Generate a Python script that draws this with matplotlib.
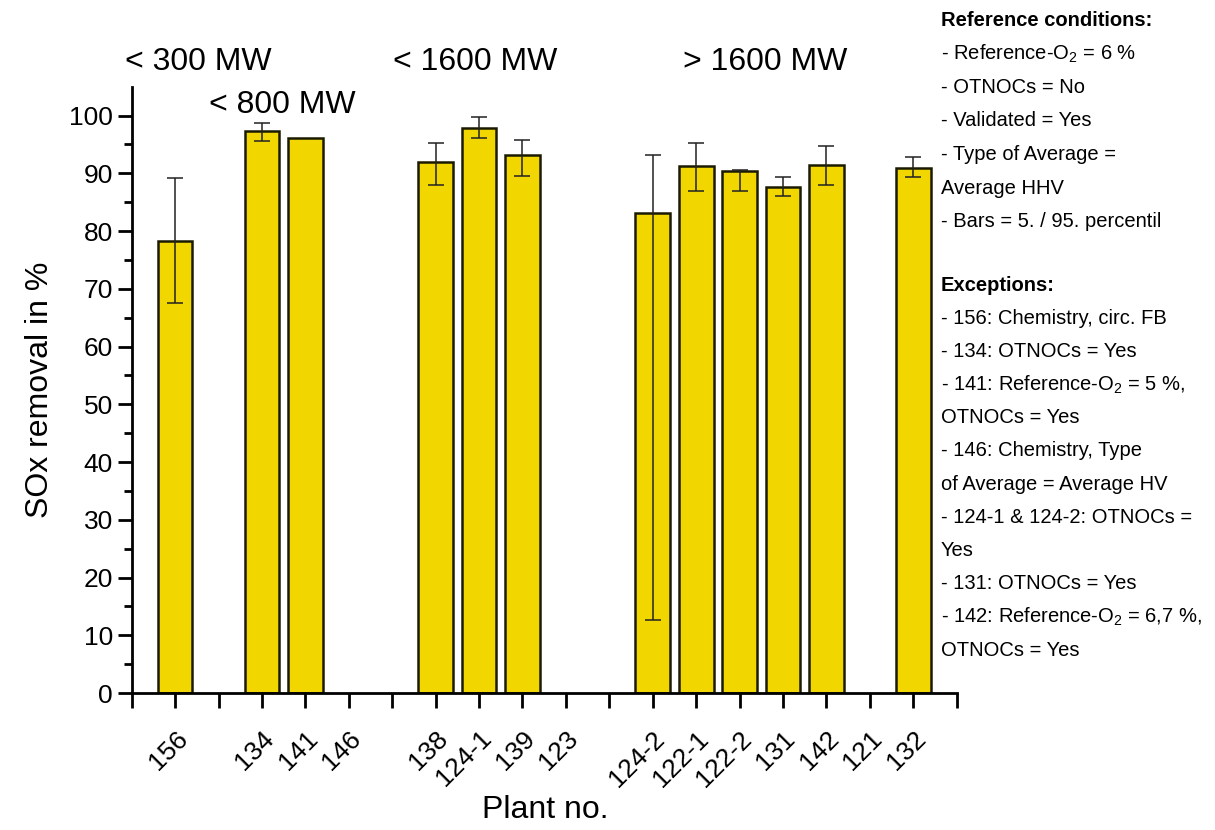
import numpy as np
import matplotlib
matplotlib.use("Agg")
import matplotlib.pyplot as plt

plt.rcParams['font.family'] = ['Liberation Sans', 'DejaVu Sans']
plt.rcParams['mathtext.default'] = 'regular'

# plant labels on x positions 1..18 (blank slots stay empty)
plants = ["156", "", "134", "141", "146", "", "138", "124-1", "139", "123",
          "", "124-2", "122-1", "122-2", "131", "142", "121", "132"]
# mean SOx removal in %, None = no bar
removal = [78.2, None, 97.4, 96.1, None, None, 91.9, 97.8, 93.2, None,
           None, 83.1, 91.2, 90.4, 87.7, 91.5, None, 90.9]
# 95. percentile (upper) and 5. percentile (lower), None = no bar
p95 = [89.2, None, 98.7, None, None, None, 95.3, 99.8, 95.7, None,
       None, 93.2, 95.3, 90.5, 89.3, 94.7, None, 92.9]
p5 = [67.6, None, 95.6, None, None, None, 88.0, 96.2, 89.6, None,
      None, 12.6, 86.9, 86.9, 86.0, 87.9, None, 89.4]

groups = ["< 300 MW", "< 800 MW", "< 1600 MW", "> 1600 MW"]

ref_lines = ["- Reference-O$_2$ = 6 %", "- OTNOCs = No", "- Validated = Yes",
             "- Type of Average =", "Average HHV", "- Bars = 5. / 95. percentil"]
exc_lines = ["- 156: Chemistry, circ. FB", "- 134: OTNOCs = Yes",
             "- 141: Reference-O$_2$ = 5 %,", "OTNOCs = Yes",
             "- 146: Chemistry, Type", "of Average = Average HV",
             "- 124-1 & 124-2: OTNOCs =", "Yes", "- 131: OTNOCs = Yes",
             "- 142: Reference-O$_2$ = 6,7 %,", "OTNOCs = Yes"]

fig = plt.figure(figsize=(12.15, 8.3), dpi=100)
ax = fig.add_axes([0.1084, 0.165, 0.679, 0.7305])

x = np.arange(1, len(plants) + 1)
for xi, v, hi, lo in zip(x, removal, p95, p5):
    if v is None:
        continue
    ax.bar(xi, v, width=0.8, color="#f2d600", edgecolor="#1a1a00", linewidth=1.8, zorder=2)
    if hi is not None:
        ax.errorbar(xi, v, yerr=[[v - lo], [hi - v]], fmt="none", ecolor="#222222",
                    elinewidth=1.1, capsize=6, capthick=1.1, zorder=3)

ax.set_xlim(0, 19)
ax.set_ylim(0, 105)
ax.set_xticks(np.arange(0, 20))
ax.set_xticklabels([""] + plants + [""], rotation=45, ha="right",
                   rotation_mode="anchor", fontsize=19)
ax.set_yticks(np.arange(0, 101, 10))
ax.set_yticks(np.arange(5, 105, 10), minor=True)
ax.tick_params(axis="y", which="major", length=10, width=2, labelsize=19)
ax.tick_params(axis="y", which="minor", length=6, width=2)
ax.tick_params(axis="x", which="major", length=11, width=2, pad=13)
for s in ["top", "right"]:
    ax.spines[s].set_visible(False)
for s in ["left", "bottom"]:
    ax.spines[s].set_linewidth(2)

ax.set_ylabel("SOx removal in %", fontsize=23, labelpad=10)
fig.text(545 / 1215, 5 / 830, "Plant no.", fontsize=23, ha="center", va="bottom")

# group annotations
for (gx, gy), g in zip([(1.53, 109.2), (3.46, 101.9), (7.9, 109.2), (14.6, 109.2)], groups):
    ax.text(gx, gy, g, fontsize=23, ha="center", va="center", clip_on=False)

# side notes
fig.text(941 / 1215, 1 - 20 / 830, "Reference conditions:", fontsize=14.5,
         fontweight="bold", va="center")
for i, line in enumerate(ref_lines):
    fig.text(941 / 1215, 1 - (54 + i * 33.5) / 830, line, fontsize=14.5, va="center")
fig.text(941 / 1215, 1 - 285 / 830, "Exceptions:", fontsize=14.5,
         fontweight="bold", va="center")
for i, line in enumerate(exc_lines):
    fig.text(941 / 1215, 1 - (318 + i * 33.2) / 830, line, fontsize=14.5, va="center")

fig.savefig("out.png", dpi=100)
